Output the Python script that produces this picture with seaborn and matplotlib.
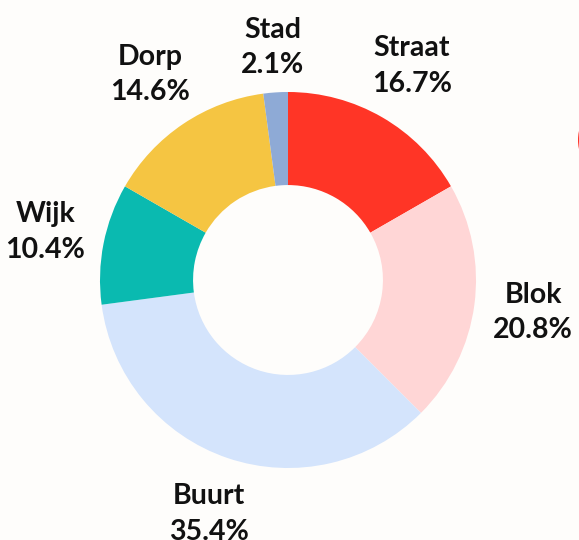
import matplotlib
matplotlib.use("Agg")
import matplotlib.pyplot as plt
import seaborn as sns
import numpy as np
from matplotlib.patches import Circle

categories = ["Straat", "Blok", "Buurt", "Wijk", "Dorp", "Stad"]
values = [16.7, 20.8, 35.4, 10.4, 14.6, 2.1]
colors = ["#FF3526", "#FFD6D6", "#D4E4FC", "#0ABAB0", "#F5C542", "#8EAAD6"]

sns.set_theme(style="white")
plt.rcParams["font.family"] = ["Lato", "DejaVu Sans"]

bg = "#FEFDFB"
W, H = 579, 540
fig = plt.figure(figsize=(W / 100, H / 100), dpi=100, facecolor=bg)

cx, cy, R = 288, 280, 188
ax = fig.add_axes([(cx - R) / W, (H - cy - R) / H, 2 * R / W, 2 * R / H])
ax.set_facecolor(bg)

wedges, _ = ax.pie(
    values,
    colors=colors,
    startangle=90,
    counterclock=False,
    radius=1,
    wedgeprops=dict(width=0.495, linewidth=0),
)

for w, c, v in zip(wedges, categories, values):
    mid = np.deg2rad((w.theta1 + w.theta2) / 2)
    dist = 1.24 if v < 5 else 1.315
    ax.text(dist * np.cos(mid), dist * np.sin(mid), f"{c}\n{v:.1f}%",
            ha="center", va="center", fontsize=20.5, fontweight="bold",
            color="#111111", linespacing=1.45)

ax.set_xlim(-1, 1)
ax.set_ylim(-1, 1)
ax.set_aspect("equal")
ax.axis("off")

# partially visible red circle at right edge
circ = Circle((621, H - 140), 43, transform=None, facecolor="#FF3526",
              edgecolor="none")
fig.patches.append(circ)

fig.savefig("out.png", dpi=100, facecolor=bg)
